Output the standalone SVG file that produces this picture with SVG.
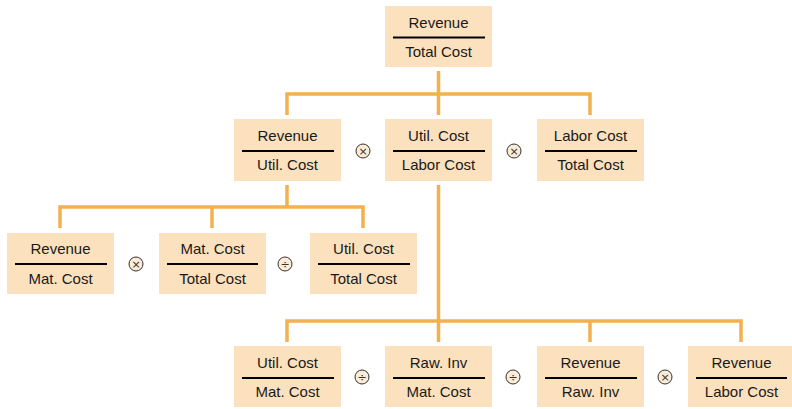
<svg xmlns="http://www.w3.org/2000/svg" width="792" height="409" viewBox="0 0 792 409">
<style>
.box{fill:#FBE1BE}
.div{stroke:#000;stroke-width:2.2}
.t{font-family:"Liberation Sans",Arial,sans-serif;font-size:15px;fill:#1a1a1a;text-anchor:middle}
.con{fill:none;stroke:#F2B04F;stroke-width:3.5;stroke-linejoin:miter;stroke-linecap:butt}
.op circle{fill:#FCEBD5;stroke:#333;stroke-width:1}
.op text{font-family:"DejaVu Sans",sans-serif;font-size:11px;fill:#333;text-anchor:middle}
</style>
<rect width="792" height="409" fill="#fff"/>
<g id="connectors" class="con">
<path d="M438.5 71 V115 M287 115 V94 H590 V115"/>
<path d="M287 185 V207 M60 228 V207 H363 V228 M212 207 V228"/>
<path d="M438.5 185 V342 M287 342 V321 H741 V342 M590 321 V342"/>
</g>
<g id="n-top"><rect class="box" x="385" y="6" width="107" height="61"/><line class="div" x1="393" y1="37.5" x2="485" y2="37.5"/><text class="t" x="438.5" y="28">Revenue</text><text class="t" x="438.5" y="57">Total Cost</text></g>
<g id="n-r2a"><rect class="box" x="234" y="119" width="107" height="62"/><line class="div" x1="242" y1="151" x2="334" y2="151"/><text class="t" x="287.5" y="141">Revenue</text><text class="t" x="287.5" y="170">Util. Cost</text></g>
<g id="n-r2b"><rect class="box" x="385" y="119" width="107" height="62"/><line class="div" x1="393" y1="151" x2="485" y2="151"/><text class="t" x="438.5" y="141">Util. Cost</text><text class="t" x="438.5" y="170">Labor Cost</text></g>
<g id="n-r2c"><rect class="box" x="537" y="119" width="107" height="62"/><line class="div" x1="545" y1="151" x2="637" y2="151"/><text class="t" x="590.5" y="141">Labor Cost</text><text class="t" x="590.5" y="170">Total Cost</text></g>
<g id="op-r2a" class="op"><circle cx="363" cy="151" r="7"/><text x="363" y="155">×</text></g>
<g id="op-r2b" class="op"><circle cx="514" cy="151" r="7"/><text x="514" y="155">×</text></g>
<g id="n-r3a"><rect class="box" x="7" y="233" width="107" height="61"/><line class="div" x1="15" y1="264" x2="107" y2="264"/><text class="t" x="60.5" y="254">Revenue</text><text class="t" x="60.5" y="284">Mat. Cost</text></g>
<g id="n-r3b"><rect class="box" x="159" y="233" width="107" height="61"/><line class="div" x1="167" y1="264" x2="258" y2="264"/><text class="t" x="212.5" y="254">Mat. Cost</text><text class="t" x="212.5" y="284">Total Cost</text></g>
<g id="n-r3c"><rect class="box" x="310" y="233" width="107" height="61"/><line class="div" x1="318" y1="264" x2="410" y2="264"/><text class="t" x="363.5" y="254">Util. Cost</text><text class="t" x="363.5" y="284">Total Cost</text></g>
<g id="op-r3a" class="op"><circle cx="136" cy="264" r="7"/><text x="136" y="268">×</text></g>
<g id="op-r3b" class="op"><circle cx="285" cy="264" r="7"/><text x="285" y="268">÷</text></g>
<g id="n-r4a"><rect class="box" x="234" y="346" width="107" height="61"/><line class="div" x1="242" y1="378" x2="334" y2="378"/><text class="t" x="287.5" y="368">Util. Cost</text><text class="t" x="287.5" y="397">Mat. Cost</text></g>
<g id="n-r4b"><rect class="box" x="385" y="346" width="107" height="61"/><line class="div" x1="393" y1="378" x2="485" y2="378"/><text class="t" x="438.5" y="368">Raw. Inv</text><text class="t" x="438.5" y="397">Mat. Cost</text></g>
<g id="n-r4c"><rect class="box" x="537" y="346" width="107" height="61"/><line class="div" x1="545" y1="378" x2="637" y2="378"/><text class="t" x="590.5" y="368">Revenue</text><text class="t" x="590.5" y="397">Raw. Inv</text></g>
<g id="n-r4d"><rect class="box" x="688" y="346" width="107" height="61"/><line class="div" x1="696" y1="378" x2="787" y2="378"/><text class="t" x="741.5" y="368">Revenue</text><text class="t" x="741.5" y="397">Labor Cost</text></g>
<g id="op-r4a" class="op"><circle cx="362" cy="377" r="7"/><text x="362" y="381">÷</text></g>
<g id="op-r4b" class="op"><circle cx="513" cy="377" r="7"/><text x="513" y="381">÷</text></g>
<g id="op-r4c" class="op"><circle cx="665" cy="377" r="7"/><text x="665" y="381">×</text></g>
</svg>
